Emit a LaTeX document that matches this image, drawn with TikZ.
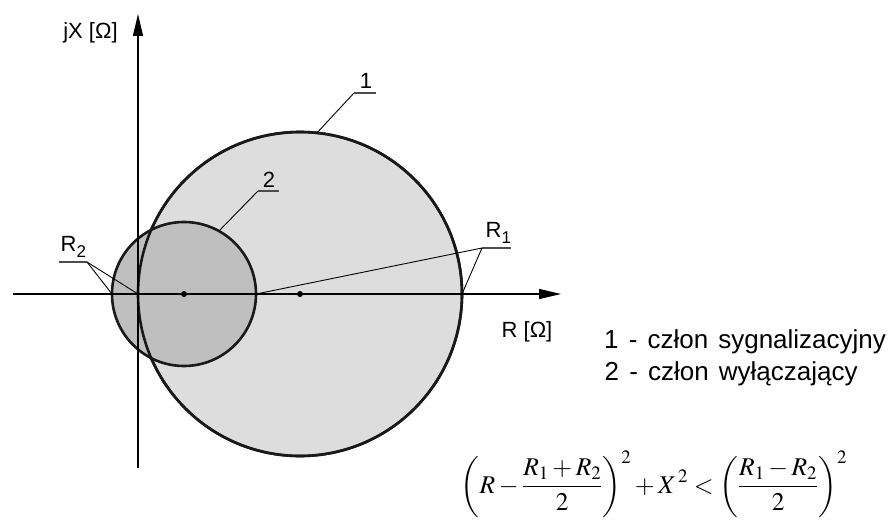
\documentclass[tikz,border=0pt]{standalone}
\usepackage{mathptmx}
\usepackage[no-math]{fontspec}
\setmainfont{Liberation Sans}
\newfontfamily\legendfont[WordSpace=1.4]{Liberation Sans}
\usetikzlibrary{arrows.meta}
\definecolor{fillone}{RGB}{221,221,221}
\definecolor{filltwo}{RGB}{191,191,191}
\tikzset{
  outline/.style={line width=2.6pt, draw=black!90},
  axis/.style={line width=1.2pt, -{Triangle[length=22pt,width=10pt]}},
  leader/.style={line width=0.9pt},
  uline/.style={line width=1.6pt, draw=black!70},
  lbl/.style={inner sep=0pt, anchor=base, font=\fontsize{22}{24}\selectfont},
  legend/.style={inner sep=0pt, anchor=base west, font=\legendfont\fontsize{26}{28}\selectfont},
  dotc/.style={fill=black},
}
\newcommand{\subx}[1]{\raisebox{-6pt}{\fontsize{17}{17}\selectfont #1}}
\begin{document}
\begin{tikzpicture}[x=1pt,y=-1pt]
\useasboundingbox (0,0) rectangle (896,519);
% circles
\node[circle, minimum size=324pt, inner sep=0pt, outer sep=0pt, fill=fillone, outline] (c1) at (300,294) {};
\node[circle, minimum size=144pt, inner sep=0pt, outer sep=0pt, fill=filltwo, outline] (c2) at (184,294) {};
\draw[outline] (c1.center) circle[radius=162pt];
% axes
\coordinate (xs) at (13,294);
\coordinate (xe) at (561,294);
\coordinate (ys) at (138,468);
\coordinate (ye) at (138,14);
\draw[axis] (xs) -- (xe);
\draw[axis] (ys) -- (ye);
% centre dots
\fill[dotc] (c1.center) circle[radius=3pt];
\fill[dotc] (c2.center) circle[radius=3pt];
% axis labels
\node[lbl] (lx) at (527,337) {R [Ω]};
\node[lbl] (ly) at (90.5,39) {jX [Ω]};
% label 1
\coordinate (u1a) at (354,93);
\coordinate (u1b) at (376,93);
\node[lbl] (t1) at (366,88) {1};
\draw[uline] (u1a) -- (u1b);
\draw[leader] (u1a) -- (c1.84.4);
% label 2
\coordinate (u2a) at (258,191);
\coordinate (u2b) at (279,191);
\node[lbl] (t2) at (269,187) {2};
\draw[uline] (u2a) -- (u2b);
\draw[leader] (u2a) -- (c2.61.3);
% R1
\coordinate (r1a) at (482,248);
\coordinate (r1b) at (511,248);
\node[lbl, anchor=base west] (tr1) at (485.5,237) {R\subx{1}};
\draw[uline] (r1a) -- (r1b);
\draw[leader] (r1a) -- (c1.east);
\draw[leader] (r1a) -- (c2.east);
% R2
\coordinate (r2a) at (59,262);
\coordinate (r2b) at (87,262);
\node[lbl, anchor=base west] (tr2) at (60.5,251) {R\subx{2}};
\draw[uline] (r2a) -- (r2b);
\draw[leader] (r2b) -- (c2.west);
\draw[leader] (r2b) -- (c1.west);
% legend
\node[legend] (leg1) at (604,348) {1 - człon sygnalizacyjny};
\node[legend] (leg2) at (604.5,380) {2 - człon wyłączający};
% formula
\node[inner sep=0pt] (eq) at (654,484) {\fontsize{25.5}{30}\selectfont$\displaystyle \left(R-\frac{R_1+R_2}{2}\right)^{2}+X^{\,2}<\left(\frac{R_1-R_2}{2}\right)^{2}$};
\end{tikzpicture}
\end{document}
